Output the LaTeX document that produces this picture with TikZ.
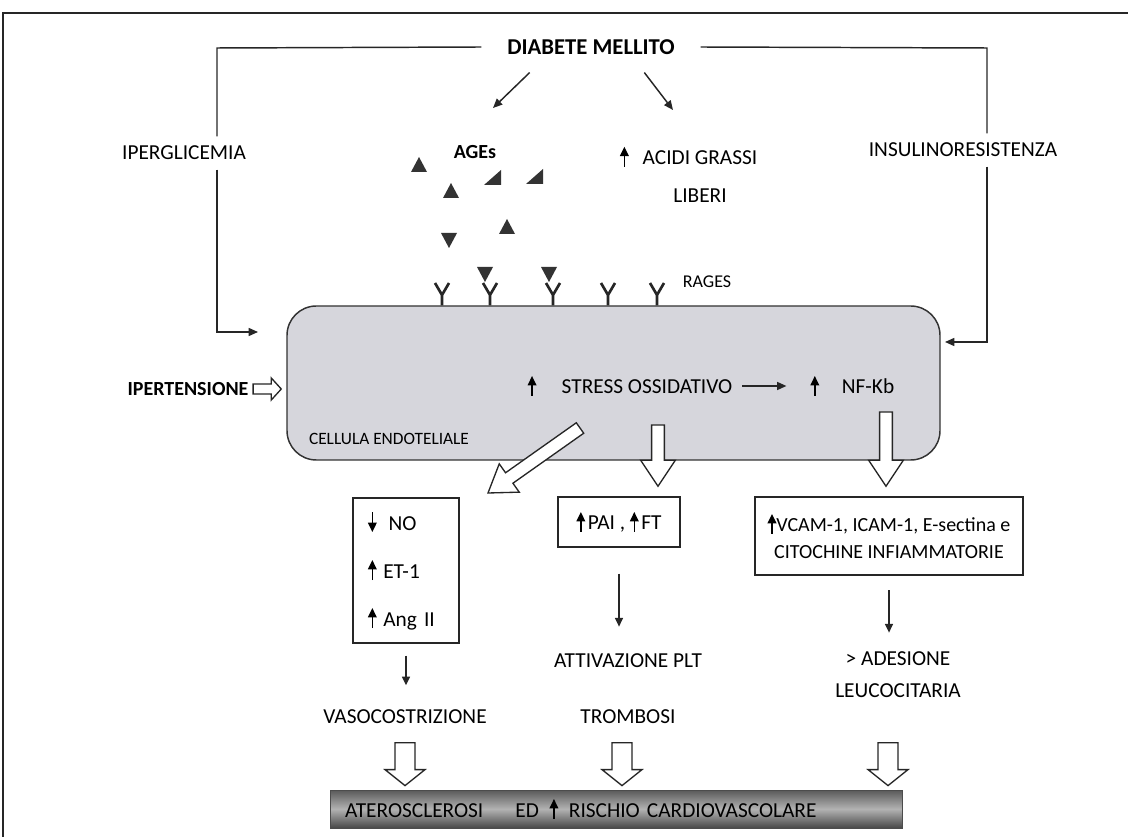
\documentclass[tikz,border=0pt]{standalone}
\usepackage{fontspec}
\setmainfont{Carlito}
\usetikzlibrary{arrows.meta,calc}

\newcommand\upar{\tikz[baseline=0pt]\draw[line width=1.1pt,-{Triangle[length=7pt,width=6.5pt]}] (0pt,-1.5pt) -- (0pt,13.5pt);}
\newcommand\downar{\tikz[baseline=0pt]\draw[line width=1.1pt,-{Triangle[length=7pt,width=6.5pt]}] (0pt,13.5pt) -- (0pt,-1.5pt);}

\begin{document}
\begin{tikzpicture}[x=0.75pt,y=-0.75pt,
    every node/.style={font=\fontsize{16}{19}\selectfont,text=black},
    line/.style={line width=1.1pt,draw=black!85},
    arr/.style={line,-{Triangle[length=7pt,width=6pt]}},
    arrs/.style={line,-{Triangle[length=6.5pt,width=6pt]}},
    cellbox/.style={draw=black!80,line width=1.1pt,fill={rgb,255:red,214;green,214;blue,220},rounded corners=22pt,minimum width=489.75pt,minimum height=115.5pt},
    box/.style={draw=black!85,line width=1.1pt,inner sep=0pt},
    small/.style={font=\fontsize{13.5}{16}\selectfont},
    bold/.style={font=\fontsize{15}{18}\selectfont\bfseries},
    age/.style={fill=black!80},
    receptor/.style={line width=2pt,draw=black!85},
    bar/.style={draw=black!70,line width=0.6pt,top color=black!65,bottom color=black!72,middle color=black!30,minimum height=28.5pt,inner xsep=11.25pt,text width=407pt,align=left,font=\fontsize{16}{19}\selectfont},
    fat/.style n args={3}{draw=black!85,fill=white,line width=1pt,line join=miter,
        to path={let \p1=($(\tikztotarget)!#3!(\tikztostart)$) in
            ($(\tikztostart)!#1!90:(\tikztotarget)$) -- ($(\p1)!#1!90:(\tikztotarget)$)
            -- ($(\p1)!#2!90:(\tikztotarget)$) -- (\tikztotarget)
            -- ($(\p1)!#2!-90:(\tikztotarget)$) -- ($(\p1)!#1!-90:(\tikztotarget)$)
            -- ($(\tikztostart)!#1!-90:(\tikztotarget)$) -- cycle}},
    hollow/.style={fat={4.8pt}{13pt}{19.5pt}},
    hollowlow/.style={fat={7.5pt}{15pt}{12pt}},
    hollowin/.style={fat={3.75pt}{8.25pt}{7.5pt}}]
    \useasboundingbox (0,0) rectangle (1128,837);
    %% Frame
    \draw[line width=1.5pt,draw=black!85] (3,837) -- (3,13) -- (1128,13);
    %% Diabete and its two branches
    \node[font=\fontsize{17}{20}\selectfont\bfseries] (dm) at (591,47) {DIABETE MELLITO};
    \node[inner ysep=7pt] (ipg) at (184,153) {IPERGLICEMIA};
    \node[inner ysep=7pt] (ins) at (963,150) {INSULINORESISTENZA};
    \coordinate (lc) at (217,48);
    \coordinate (rc) at (987,48);
    \coordinate (lin) at (258,332);
    \coordinate (rin) at (945,342);
    \draw[line] ([xshift=-16pt]dm.west) -- (lc) -- (lc |- ipg.north);
    \draw[arr] (lc |- ipg.south) -- (lc |- lin) -- (lin);
    \draw[line] ([xshift=16pt]dm.east) -- (rc) -- (rc |- ins.north);
    \draw[arr] (rc |- ins.south) -- (rc |- rin) -- (rin);
    %% AGEs and fatty acids
    \node[bold] (ages) at (475,152) {AGEs};
    \node[align=center] (ffa) at (700,174) {\llap{\upar\hspace{10.5pt}}ACIDI GRASSI\\[9pt]LIBERI};
    \coordinate (agtip) at (493,108);
    \coordinate (fftip) at (673,110);
    \draw[arr] ([xshift=-46pt,yshift=-10pt]dm.south) -- (agtip);
    \draw[arr] ([xshift=40pt,yshift=-10pt]dm.south) -- (fftip);
    \foreach \x/\y in {419/165,451/191,507/227}
        \fill[age] (\x-8,\y+7) -- (\x+8,\y+7) -- (\x,\y-8) -- cycle;
    \foreach \x/\y in {493/178,535/177}
        \fill[age] (\x-9,\y+7) -- (\x+8,\y+7) -- (\x+8,\y-8) -- cycle;
    \foreach \x/\y in {449/240,485/274,549/274}
        \fill[age] (\x-8,\y-7) -- (\x+8,\y-7) -- (\x,\y+8) -- cycle;
    %% Endothelial cell
    \node[cellbox] (cell) at (613.5,383) {};
    \foreach \x in {442,490,553,608,657}
        \draw[receptor] (cell.north -| \x,0) -- (\x,295) -- (\x-7,283) (\x,295) -- (\x+7,283);
    \node[small] (rages) at (707,282) {RAGES};
    \node[font=\fontsize{13}{16}\selectfont] (ce) at (389,439) {CELLULA ENDOTELIALE};
    \node[bold] (ipt) at (188,389) {IPERTENSIONE};
    \draw[hollowin] (ipt.east) to ($(cell.west |- ipt)+(-5,0)$);
    \node (stress) at (647,386) {\llap{\upar\hspace{19pt}}STRESS OSSIDATIVO};
    \node (nfkb) at (868,386) {\llap{\upar\hspace{17pt}}NF-Kb};
    \draw[arr,shorten <=4pt,shorten >=38pt] (stress.east) -- (stress.east -| nfkb.west);
    %% Boxes below the cell
    \node[box,minimum width=79.5pt,minimum height=108.75pt,text width=57pt,align=left,inner xsep=11.25pt] (nobox) at (406,570.5)
        {\downar\hspace{9pt}NO\\[17pt]\upar\hspace{5pt}ET-1\\[17pt]\upar\hspace{5pt}Ang II};
    \node[box,minimum width=91.5pt,minimum height=37.5pt] (pai) at (619,522) {\upar\hspace{2pt}PAI , \upar\hspace{2pt}FT};
    \node[box,minimum width=201pt,minimum height=58.5pt,align=center,font=\fontsize{15}{18}\selectfont] (vcam) at (889,536)
        {\upar VCAM-1, ICAM-1, E-sectina e\\[2pt]CITOCHINE INFIAMMATORIE};
    \coordinate (d1) at (580,428);
    \coordinate (d2) at (658,425);
    \coordinate (d3) at (886,412);
    \draw[hollow] (d1) to (488,493);
    \draw[hollow] (d2) to ($(d2 |- pai.north)+(0,-10)$);
    \draw[hollow] (d3) to ($(d3 |- vcam.north)+(0,-10)$);
    %% Effects
    \node (vc) at (405,717) {VASOCOSTRIZIONE};
    \node (plt) at (628,661) {ATTIVAZIONE PLT};
    \node (tromb) at (628,717) {TROMBOSI};
    \node[align=center] (ades) at (898,675) {> ADESIONE\\[5pt]LEUCOCITARIA};
    \draw[arrs,shorten <=9pt,shorten >=15pt] (nobox.south) -- (nobox.south |- vc.north);
    \draw[arrs,shorten <=19.5pt,shorten >=17pt] (pai.south) -- (pai.south |- plt.north);
    \draw[arrs,shorten <=11pt,shorten >=11pt] (vcam.south) -- (vcam.south |- ades.north);
    %% Outcome
    \node[bar] (bar) at (616.5,809) {ATEROSCLEROSI\hspace{24pt}ED\hspace{8pt}\upar\hspace{8pt}RISCHIO CARDIOVASCOLARE};
    \draw[hollowlow] ($(vc.south)+(0,14)$) to ($(vc.south |- bar.north)+(0,-4)$);
    \draw[hollowlow] ($(tromb.south)+(-6,14)$) to ($(tromb.south |- bar.north)+(-6,-4)$);
    \draw[hollowlow] ($(vc.south -| ades.south)+(-10,14)$) to ($(ades.south |- bar.north)+(-10,-4)$);
\end{tikzpicture}
\end{document}
